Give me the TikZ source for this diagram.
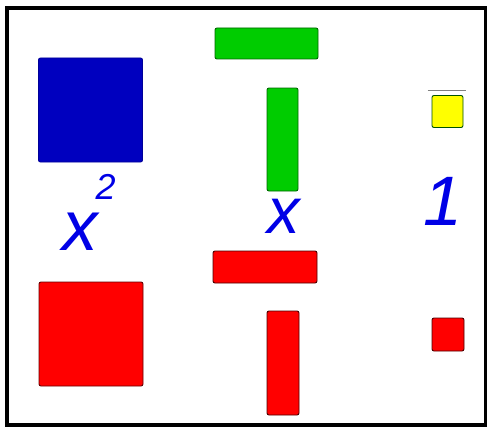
\documentclass[tikz,border=0pt]{standalone}
\usepackage{fontspec}
\setmainfont{Liberation Sans}
\usepackage{tikz}
\usetikzlibrary{positioning}
\usepackage{xcolor}
\definecolor{tblue}{HTML}{0000BF}
\definecolor{tgreen}{HTML}{00CC00}
\definecolor{tred}{HTML}{FF0000}
\definecolor{tyellow}{HTML}{FFFF00}
\definecolor{inkblue}{HTML}{0000E6}
\begin{document}
\begin{tikzpicture}[x=1pt, y=-1pt,
          tile/.style={rounded corners=2pt, inner sep=0pt, line width=0.9pt},
          sq/.style={tile, minimum width=104pt, minimum height=104pt},
          bar/.style={tile, minimum width=103pt, minimum height=31pt},
          rod/.style={tile, minimum width=31pt, minimum height=103pt},
          unit/.style={tile, minimum width=31pt, minimum height=32pt},
          lbl/.style={text=inkblue, inner sep=0pt, font=\itshape}]
        \useasboundingbox (0,0) rectangle (487,428);
        \draw[line width=3.5pt] (7,8) rectangle (485.5,425);
        % positive tiles
        \node[sq, draw=tblue!80!black, fill=tblue] (xsq) at (90.5,110) {};
        \node[bar, draw=tgreen!50!black, fill=tgreen] (xh) at (266.5,43.5) {};
        \node[rod, draw=tgreen!50!black, fill=tgreen] (xv) at (282.5,139.5) {};
        \node[unit, draw=tgreen!40!black, fill=tyellow] (one) at (447.5,111.5) {};
        \draw[gray, line width=0.8pt] ([xshift=-4pt, yshift=5pt]one.north west) -- ([xshift=3pt, yshift=5pt]one.north east);
        % negative tiles
        \node[sq, draw=tred!40!black, fill=tred] (nxsq) at (91,334) {};
        \node[bar, draw=tred!30!black, fill=tred, minimum width=104pt, minimum height=32pt] (nxh) at (265,267) {};
        \node[rod, draw=tred!30!black, fill=tred, minimum width=32pt, minimum height=104pt] (nxv) at (283,363) {};
        \node[unit, draw=tred!30!black, fill=tred, minimum width=32pt, minimum height=33pt] (none) at (448,334.5) {};
        % labels
        \node[lbl, anchor=base west, font=\itshape\fontsize{71}{71}\selectfont] (lxsq) at (62,250) {x\kern-2pt\raisebox{51pt}{\fontsize{36}{36}\selectfont 2}};
        \node[lbl, anchor=base west, font=\itshape\fontsize{65}{65}\selectfont] (lx) at (267,233) {x};
        \node[lbl, anchor=base, font=\itshape\fontsize{70}{70}\selectfont] (lone) at (443,225) {1};
      \end{tikzpicture}
\end{document}
